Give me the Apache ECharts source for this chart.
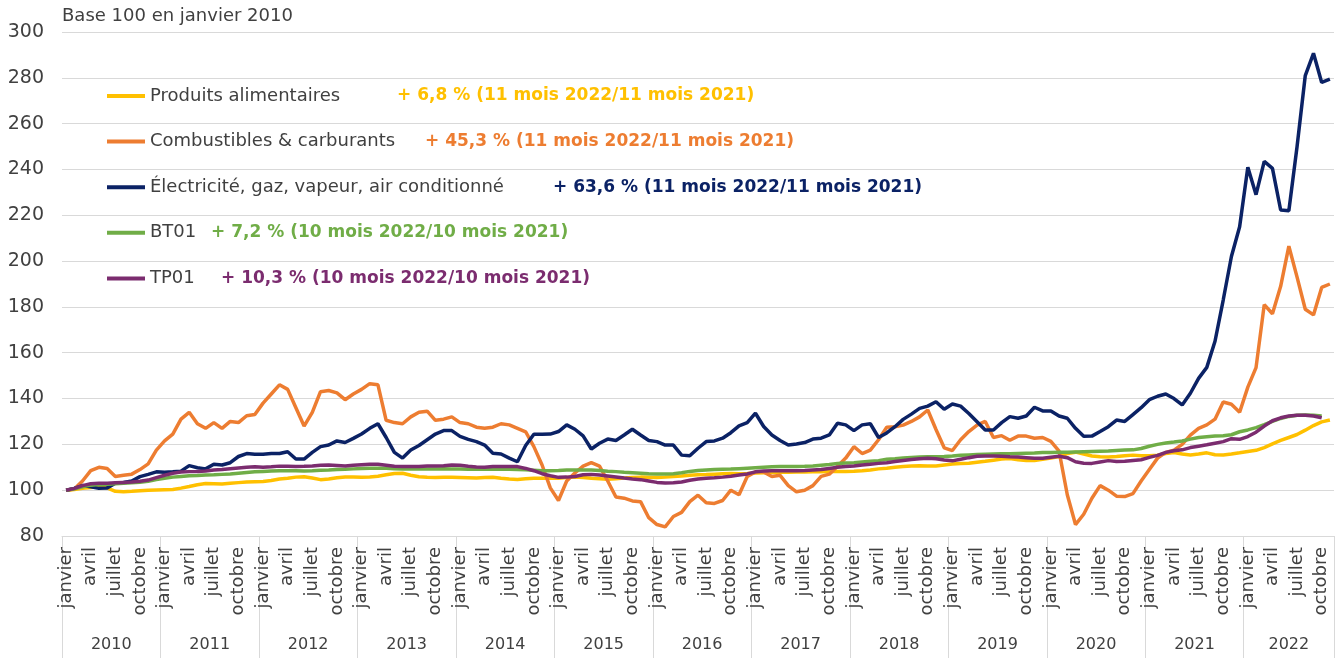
<!DOCTYPE html>
<html>
<head>
<meta charset="utf-8">
<script src="https://cdn.jsdelivr.net/npm/echarts@6/dist/echarts.min.js"></script>
<style>
  html, body { margin: 0; padding: 0; background: #ffffff; }
  #chart { width: 1338px; height: 658px; }
</style>
</head>
<body>
<div id="chart"></div>
<script>
// ---------- DATA ----------
const years = ['2010','2011','2012','2013','2014','2015','2016','2017','2018','2019','2020','2021','2022'];
const monthNames = ['janvier','février','mars','avril','mai','juin','juillet','août','septembre','octobre','novembre','décembre'];
const monthCount = 155; // janvier 2010 -> novembre 2022

const seriesNames = [
  'Produits alimentaires',
  'Combustibles & carburants',
  'Électricité, gaz, vapeur, air conditionné',
  'BT01',
  'TP01'
];
const variations = [
  '+ 6,8 % (11 mois 2022/11 mois 2021)',
  '+ 45,3 % (11 mois 2022/11 mois 2021)',
  '+ 63,6 % (11 mois 2022/11 mois 2021)',
  '+ 7,2 % (10 mois 2022/10 mois 2021)',
  '+ 10,3 % (10 mois 2022/10 mois 2021)'
];

const alimentaires = [
  100, 100.3, 100.8, 101.2, 101.5, 101, 99.5, 99.3, 99.5, 99.8, 100, 100.1,
  100.2, 100.3, 100.9, 101.6, 102.4, 102.9, 102.8, 102.7, 103, 103.3, 103.6, 103.7,
  103.8, 104.2, 104.9, 105.2, 105.7, 105.9, 105.3, 104.6, 104.9, 105.4, 105.8, 105.7,
  105.6, 105.8, 106.1, 106.7, 107.3, 107.4, 106.5, 105.9, 105.6, 105.5, 105.6, 105.6,
  105.5, 105.4, 105.3, 105.5, 105.6, 105.2, 104.9, 104.7, 105, 105.2, 105.2, 105.2,
  105.2, 105.5, 105.7, 105.5, 105.2, 105, 104.8, 105, 105.3, 105.5, 105.7, 105.6,
  105.5, 105.7, 106, 106.2, 106.5, 106.7, 106.8, 107, 107.2, 107.3, 107.2, 107.3,
  107.5, 107.6, 107.7, 107.8, 107.8, 107.9, 107.9, 108, 108, 108.1, 108.2, 108.2,
  108.3, 108.5, 108.8, 109.3, 109.6, 110, 110.3, 110.6, 110.7, 110.6, 110.6, 111,
  111.4, 111.6, 111.8, 112.2, 112.6, 113.1, 113.6, 113.8, 113.3, 113, 113, 113.5,
  114, 114.7, 116, 116.6, 115.8, 114.9, 114.6, 114.5, 114.7, 115, 115.3, 115,
  115, 115.3, 116, 116.4, 115.8, 115.4, 115.8, 116.3, 115.5, 115.4, 115.8, 116.3,
  116.9, 117.4, 118.6, 120.2, 121.7, 123, 124.3, 126.2, 128.2, 129.8, 130.6
];

const combustibles = [
  100, 100.5, 104, 108.5, 110, 109.5, 106, 106.5, 107, 109, 111.5, 117.5,
  121.5, 124.5, 131, 134, 129, 127, 129.5, 127, 130, 129.5, 132.5, 133,
  138, 142, 146, 144, 136, 128, 134, 143, 143.5, 142.5, 139.5, 142,
  144, 146.5, 146, 130.5, 129.5, 129, 132, 134, 134.5, 130.5, 131, 132,
  129.5, 129, 127.5, 127, 127.5, 129, 128.5, 127, 125.5, 119, 111, 101,
  95.5, 104, 107.5, 110.5, 112, 110.5, 104, 97, 96.5, 95.3, 95, 88,
  85, 84, 88.5, 90.3, 95, 97.8, 94.5, 94.2, 95.5, 100, 98, 106,
  108, 108, 106, 106.5, 102, 99.3, 100, 102, 106, 107, 110.5, 114,
  119, 116, 117.5, 122, 127.5, 127.7, 128.4, 130, 132, 135, 126.5, 118.5,
  117.3, 122, 125.6, 128.4, 130, 123, 123.8, 121.8, 123.6, 123.6, 122.7, 123,
  121.3, 117, 98, 85, 89.5, 96.5, 102, 100, 97.4, 97.2, 98.5, 104,
  109, 114, 116.5, 117.5, 120, 124, 127, 128.5, 131, 138.5, 137.5, 134,
  145, 153.5, 181, 177, 189, 206.5, 193, 179, 176.5, 188.5, 190
];

const electricite = [
  100, 100.8, 102, 101.5, 100.8, 101, 103, 103.4, 104, 105.9, 106.9, 108,
  107.8, 108, 108.3, 110.7, 109.8, 109.3, 111.3, 111, 112, 114.7, 116, 115.7,
  115.7, 116, 116, 116.8, 113.6, 113.6, 116.5, 119, 119.7, 121.5, 120.8, 122.6,
  124.5, 127, 129, 123, 116.5, 114, 117.5, 119.5, 122, 124.5, 126, 126,
  123.5, 122.2, 121.2, 119.7, 116.1, 115.8, 114, 112.4, 119.5, 124.4, 124.4, 124.5,
  125.6, 128.5, 126.6, 123.7, 118, 120.5, 122.3, 121.7, 124.1, 126.6, 124.1, 121.7,
  121.2, 119.7, 119.7, 115.3, 115, 118.3, 121.2, 121.5, 122.7, 125.1, 128.1, 129.5,
  133.6, 127.8, 124.1, 121.7, 119.7, 120.2, 120.8, 122.3, 122.7, 124.1, 129.2, 128.5,
  126, 128.5, 129, 123, 125, 127.7, 130.9, 133.2, 135.7, 136.7, 138.6, 135.3,
  137.6, 136.7, 133.5, 129.9, 126.3, 126.3, 129.5, 132.1, 131.4, 132.4, 136.2, 134.6,
  134.6, 132.4, 131.4, 127, 123.5, 123.6, 125.6, 127.7, 130.6, 130, 133, 136,
  139.5, 141, 142, 140, 137.2, 142.3, 148.8, 153.6, 165, 183, 202, 215,
  241, 229, 243.5, 240.5, 222.3, 222, 250, 281, 290.7, 278, 279.4
];

const bt01 = [
  100, 100.6, 101.5, 102.2, 102.5, 102.6, 102.8, 103, 103.2, 103.5, 103.9, 104.6,
  105.2, 105.7, 106, 106.3, 106.4, 106.6, 106.7, 106.9, 107.1, 107.4, 107.7, 108,
  108.2, 108.4, 108.5, 108.5, 108.5, 108.4, 108.5, 108.7, 108.8, 109, 109.1, 109.3,
  109.5, 109.6, 109.6, 109.6, 109.4, 109.3, 109.3, 109.3, 109.3, 109.3, 109.4, 109.3,
  109.2, 109.1, 109.1, 109.1, 109.1, 109.1, 109.1, 109, 108.9, 108.7, 108.5, 108.5,
  108.6, 108.8, 108.8, 108.8, 108.8, 108.6, 108.3, 108.1, 107.8, 107.6, 107.4, 107.2,
  107.1, 107.1, 107.2, 107.6, 108.2, 108.6, 108.8, 109, 109.1, 109.2, 109.4, 109.6,
  109.8, 110, 110.2, 110.3, 110.3, 110.3, 110.4, 110.6, 110.9, 111.2, 111.6, 111.9,
  112, 112.3, 112.6, 112.9, 113.5, 113.7, 114, 114.3, 114.5, 114.6, 114.6, 114.7,
  114.9, 115.2, 115.4, 115.6, 115.7, 115.8, 115.9, 115.9, 116, 116.1, 116.2, 116.4,
  116.5, 116.6, 116.6, 116.7, 116.8, 116.9, 117, 117.1, 117.3, 117.5, 117.6, 118.2,
  119.2, 120, 120.6, 121, 121.5, 122.3, 123, 123.3, 123.6, 123.8, 124.2, 125.5,
  126.3, 127.3, 128.6, 130, 131.3, 132.2, 132.7, 132.8, 132.7, 132.4, null
];

const tp01 = [
  100, 100.8, 102, 102.8, 103, 103, 103.2, 103.4, 103.6, 103.9, 104.4, 105.5,
  106.5, 107.4, 107.9, 108.1, 108.2, 108.4, 108.8, 109, 109.4, 109.7, 110, 110.2,
  110, 110.2, 110.5, 110.4, 110.3, 110.4, 110.6, 110.9, 111, 110.8, 110.6, 110.9,
  111.1, 111.3, 111.3, 110.9, 110.4, 110.3, 110.3, 110.3, 110.6, 110.6, 110.7, 111,
  110.9, 110.4, 110.1, 110, 110.3, 110.3, 110.3, 110.3, 109.5, 108.5, 107.2, 106.3,
  105.6, 105.7, 106, 106.7, 106.9, 106.6, 106.2, 105.8, 105.3, 104.9, 104.6, 104,
  103.4, 103.1, 103.2, 103.6, 104.3, 104.9, 105.2, 105.4, 105.7, 106.1, 106.6, 107.1,
  108, 108.4, 108.5, 108.5, 108.5, 108.5, 108.6, 108.8, 109, 109.5, 110, 110.3,
  110.6, 111, 111.3, 111.7, 112, 112.5, 113, 113.4, 113.7, 113.9, 113.7, 113.2,
  112.8, 113.5, 114.2, 114.8, 114.9, 114.9, 114.8, 114.6, 114.5, 114.2, 113.9, 113.9,
  114.4, 114.8, 114.2, 112.4, 111.8, 111.7, 112.3, 112.9, 112.5, 112.6, 113, 113.3,
  114.3, 115.2, 116.5, 117.2, 117.6, 118.6, 119.2, 119.8, 120.5, 121.2, 122.5, 122.2,
  123.4, 125.3, 128, 130.3, 131.6, 132.4, 132.7, 132.7, 132.4, 131.6, null
];

const yTicks = { min: 80, max: 300, interval: 20 };

// ---------- BUILD ----------
const categories = [];
for (let i = 0; i < monthCount; i++) categories.push(monthNames[i % 12] + ' ' + years[Math.floor(i / 12)]);
const yearLabelPos = years.map((y, k) => k * 12 + Math.min(12, monthCount - k * 12) / 2);

const colors = ['#FFC000', '#ED7D31', '#0B2265', '#70AD47', '#7B2C6F'];
const seriesData = [alimentaires, combustibles, electricite, bt01, tp01];
const FONT = 'DejaVu Sans';
const TXT = '#404040';

const rich = {};
const nameWidths = [247, 275, 403, 61, 71];
seriesNames.forEach((n, k) => {
  rich['n' + k] = { width: nameWidths[k], fontSize: 18, color: TXT, fontFamily: FONT, lineHeight: 22 };
  rich['c' + k] = { fontSize: 17, fontWeight: 'bold', color: colors[k], fontFamily: FONT, lineHeight: 22 };
});

const chart = echarts.init(document.getElementById('chart'), null, { renderer: 'canvas' });
chart.setOption({
  animation: false,
  backgroundColor: '#ffffff',
  title: {
    text: 'Base 100 en janvier 2010',
    left: 62, top: 7, padding: 0,
    textStyle: { fontFamily: FONT, fontSize: 18, fontWeight: 'normal', color: TXT }
  },
  grid: { left: 62, right: 4, top: 32, bottom: 122, containLabel: false },
  legend: {
    orient: 'vertical', left: 107, top: 85, padding: 0,
    itemGap: 23.6, itemWidth: 38, itemHeight: 4, icon: 'rect',
    selectedMode: false,
    data: seriesNames,
    formatter: function (name) {
      const k = seriesNames.indexOf(name);
      return '{n' + k + '|' + name + '}{c' + k + '|' + variations[k] + '}';
    },
    textStyle: { fontFamily: FONT, fontSize: 18, color: TXT, lineHeight: 22, rich: rich }
  },
  xAxis: [
    {
      type: 'category',
      data: categories,
      boundaryGap: true,
      axisLine: { show: true, lineStyle: { color: '#d9d9d9', width: 1 } },
      axisTick: {
        show: true,
        interval: function (idx) { return idx % 12 === 0; },
        length: 122,
        lineStyle: { color: '#d9d9d9', width: 1 }
      },
      axisLabel: {
        interval: function (idx) { return idx % 3 === 0; },
        formatter: function (v) { return v.split(' ')[0]; },
        rotate: 90, margin: 11,
        fontFamily: FONT, fontSize: 18, color: TXT
      },
      splitLine: { show: false }
    },
    {
      type: 'value',
      position: 'bottom',
      min: 0, max: monthCount,
      axisLine: { show: false },
      axisTick: { show: false },
      splitLine: { show: false },
      axisLabel: {
        show: true,
        customValues: yearLabelPos,
        formatter: function (v) { return years[Math.floor(v / 12)]; },
        margin: 101,
        fontFamily: FONT, fontSize: 16, color: TXT
      }
    }
  ],
  yAxis: {
    type: 'value',
    min: yTicks.min, max: yTicks.max, interval: yTicks.interval,
    axisLine: { show: false },
    axisTick: { show: false },
    axisLabel: { fontFamily: FONT, fontSize: 19, color: TXT, margin: 18 },
    splitLine: { show: true, lineStyle: { color: '#d9d9d9', width: 1 } }
  },
  series: seriesNames.map((n, k) => ({
    name: n,
    type: 'line',
    xAxisIndex: 0,
    data: seriesData[k],
    symbol: 'none',
    showSymbol: false,
    connectNulls: false,
    lineStyle: { color: colors[k], width: 3.5 },
    itemStyle: { color: colors[k] },
    emphasis: { disabled: true }
  }))
});
</script>
</body>
</html>
